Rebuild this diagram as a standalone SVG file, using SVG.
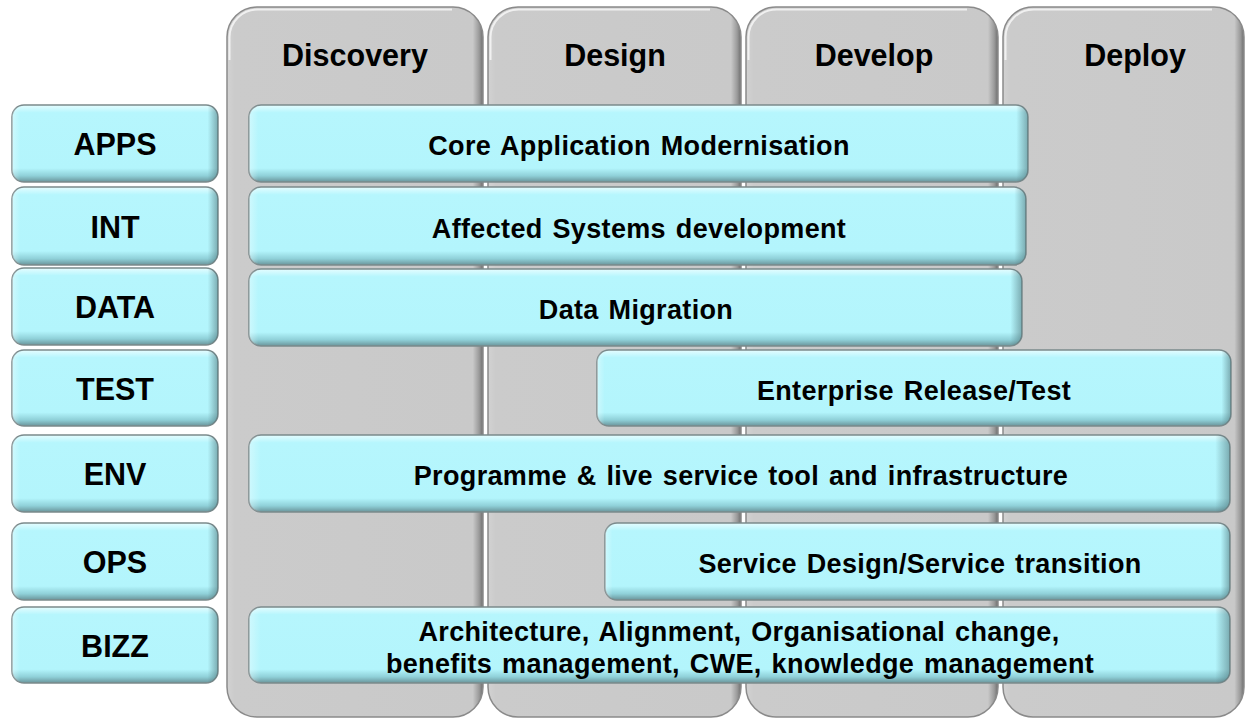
<svg xmlns="http://www.w3.org/2000/svg" width="1245" height="719" viewBox="0 0 1245 719">
<defs>
<linearGradient id="colG" x1="0" y1="0" x2="1" y2="0">
<stop offset="0" stop-color="#d2d2d2"/>
<stop offset="0.03" stop-color="#cbcbcb"/>
<stop offset="0.96" stop-color="#c9c9c9"/>
<stop offset="0.985" stop-color="#9a9a9a"/>
<stop offset="1" stop-color="#6d6d6d"/>
</linearGradient>
<linearGradient id="barG" x1="0" y1="0" x2="0" y2="1">
<stop offset="0" stop-color="#e6fdff"/>
<stop offset="0.1" stop-color="#b6f6fd"/>
<stop offset="0.82" stop-color="#b3f5fc"/>
<stop offset="0.92" stop-color="#8fd0d8"/>
<stop offset="1" stop-color="#6a949a"/>
</linearGradient>
<linearGradient id="barR" x1="0" y1="0" x2="1" y2="0">
<stop offset="0" stop-color="#ffffff" stop-opacity="0.35"/>
<stop offset="0.012" stop-color="#ffffff" stop-opacity="0"/>
<stop offset="0.985" stop-color="#4a6f74" stop-opacity="0"/>
<stop offset="1" stop-color="#4a6f74" stop-opacity="0.55"/>
</linearGradient>
<linearGradient id="lblR" x1="0" y1="0" x2="1" y2="0">
<stop offset="0" stop-color="#ffffff" stop-opacity="0.35"/>
<stop offset="0.04" stop-color="#ffffff" stop-opacity="0"/>
<stop offset="0.95" stop-color="#4a6f74" stop-opacity="0"/>
<stop offset="1" stop-color="#4a6f74" stop-opacity="0.55"/>
</linearGradient>
</defs>
<style>
.col{fill:url(#colG);stroke:#8a8a8a;stroke-width:1.5}
.colhl{fill:none;stroke:#f4f4f4;stroke-width:2;opacity:0.9}
.bar{fill:url(#barG);stroke:#7b8a8c;stroke-width:1.5}
.lbl{fill:url(#lblR);stroke:none}
.br{fill:url(#barR);stroke:none}
.t{font-family:"Liberation Sans",Arial,sans-serif;font-weight:bold;fill:#000;text-anchor:middle}
.h{font-size:30.5px}
.l{font-size:30.5px}
.b{font-size:27px;letter-spacing:0.35px;word-spacing:2px}
</style>
<rect width="1245" height="719" fill="#ffffff"/>
<g id="col-discovery">
<rect class="col" x="227" y="7" width="256" height="710" rx="30" ry="30"/>
<path class="colhl" d="M229.5 60 V37 A28 28 0 0 1 257.5 9.5 H452"/>
<text class="t h" x="355" y="66">Discovery</text>
</g>
<g id="col-design">
<rect class="col" x="488" y="7" width="253" height="710" rx="30" ry="30"/>
<path class="colhl" d="M490.5 60 V37 A28 28 0 0 1 518.5 9.5 H710"/>
<text class="t h" x="615" y="66">Design</text>
</g>
<g id="col-develop">
<rect class="col" x="746" y="7" width="252" height="710" rx="30" ry="30"/>
<path class="colhl" d="M748.5 60 V37 A28 28 0 0 1 776.5 9.5 H967"/>
<text class="t h" x="874" y="66">Develop</text>
</g>
<g id="col-deploy">
<rect class="col" x="1003" y="7" width="241" height="710" rx="30" ry="30"/>
<path class="colhl" d="M1005.5 60 V37 A28 28 0 0 1 1033.5 9.5 H1212"/>
<text class="t h" x="1135" y="66">Deploy</text>
</g>

<g id="lbl-apps">
<rect class="bar" x="12" y="105" width="206" height="77" rx="12"/>
<rect class="lbl" x="12" y="105" width="206" height="77" rx="12"/>
<text class="t l" x="115" y="155">APPS</text>
</g>
<g id="lbl-int">
<rect class="bar" x="12" y="187" width="206" height="78" rx="12"/>
<rect class="lbl" x="12" y="187" width="206" height="78" rx="12"/>
<text class="t l" x="115" y="238">INT</text>
</g>
<g id="lbl-data">
<rect class="bar" x="12" y="268" width="206" height="77" rx="12"/>
<rect class="lbl" x="12" y="268" width="206" height="77" rx="12"/>
<text class="t l" x="115" y="318">DATA</text>
</g>
<g id="lbl-test">
<rect class="bar" x="12" y="350" width="206" height="76" rx="12"/>
<rect class="lbl" x="12" y="350" width="206" height="76" rx="12"/>
<text class="t l" x="115" y="400">TEST</text>
</g>
<g id="lbl-env">
<rect class="bar" x="12" y="435" width="206" height="77" rx="12"/>
<rect class="lbl" x="12" y="435" width="206" height="77" rx="12"/>
<text class="t l" x="115" y="485">ENV</text>
</g>
<g id="lbl-ops">
<rect class="bar" x="12" y="523" width="206" height="77" rx="12"/>
<rect class="lbl" x="12" y="523" width="206" height="77" rx="12"/>
<text class="t l" x="115" y="573">OPS</text>
</g>
<g id="lbl-bizz">
<rect class="bar" x="12" y="607" width="206" height="76" rx="12"/>
<rect class="lbl" x="12" y="607" width="206" height="76" rx="12"/>
<text class="t l" x="115" y="657">BIZZ</text>
</g>

<g id="bar-apps">
<rect class="bar" x="249" y="105" width="779" height="77" rx="12"/>
<rect class="br" x="249" y="105" width="779" height="77" rx="12"/>
<text class="t b" x="639" y="155">Core Application Modernisation</text>
</g>
<g id="bar-int">
<rect class="bar" x="249" y="187" width="777" height="78" rx="12"/>
<rect class="br" x="249" y="187" width="777" height="78" rx="12"/>
<text class="t b" x="639" y="238">Affected Systems development</text>
</g>
<g id="bar-data">
<rect class="bar" x="249" y="269" width="773" height="77" rx="12"/>
<rect class="br" x="249" y="269" width="773" height="77" rx="12"/>
<text class="t b" x="636" y="319">Data Migration</text>
</g>
<g id="bar-test">
<rect class="bar" x="597" y="350" width="634" height="76" rx="12"/>
<rect class="br" x="597" y="350" width="634" height="76" rx="12"/>
<text class="t b" x="914" y="400">Enterprise Release/Test</text>
</g>
<g id="bar-env">
<rect class="bar" x="249" y="435" width="981" height="77" rx="12"/>
<rect class="br" x="249" y="435" width="981" height="77" rx="12"/>
<text class="t b" x="741" y="485">Programme &amp; live service tool and infrastructure</text>
</g>
<g id="bar-ops">
<rect class="bar" x="605" y="523" width="625" height="77" rx="12"/>
<rect class="br" x="605" y="523" width="625" height="77" rx="12"/>
<text class="t b" x="920" y="573">Service Design/Service transition</text>
</g>
<g id="bar-bizz">
<rect class="bar" x="249" y="607" width="981" height="76" rx="12"/>
<rect class="br" x="249" y="607" width="981" height="76" rx="12"/>
<text class="t b" x="739" y="641">Architecture, Alignment, Organisational change,</text>
<text class="t b" x="740" y="673">benefits management, CWE, knowledge management</text>
</g>
</svg>
